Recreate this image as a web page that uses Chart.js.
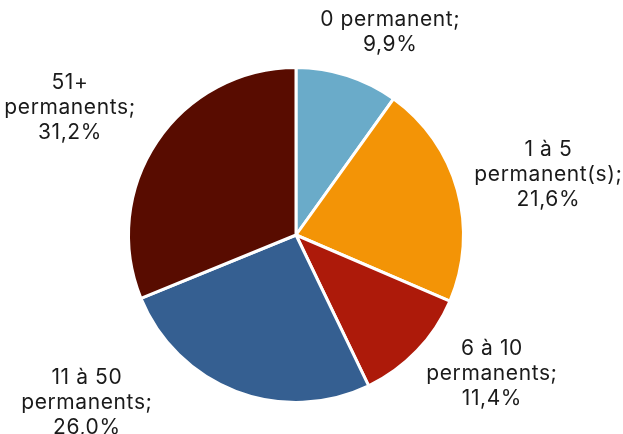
<!DOCTYPE html>
<html>
<head>
<meta charset="utf-8">
<script src="https://cdn.jsdelivr.net/npm/chart.js@4.4.1/dist/chart.umd.min.js"></script>
<style>
  html, body { margin: 0; padding: 0; background: #ffffff; }
  #wrap { width: 623px; height: 434px; position: relative; }
</style>
</head>
<body>
<div id="wrap"><canvas id="pie"></canvas></div>
<script>
// === DATA ===
const categories = [
  ["0 permanent;"],
  ["1 à 5", "permanent(s);"],
  ["6 à 10", "permanents;"],
  ["11 à 50", "permanents;"],
  ["51+", "permanents;"]
];
const shares = [9.9, 21.6, 11.4, 26.0, 31.2];
const shareLabels = ["9,9%", "21,6%", "11,4%", "26,0%", "31,2%"];
const sliceColors = ["#6aabc9", "#f39406", "#ad1a0a", "#355f91", "#580c00"];

// label offsets from each slice's outer mid point (px)
const labelShift = [[43, -43], [91, -15], [75, 23], [-149, 11], [-87, -34]];

// === LABEL PLUGIN ===
const outsideLabels = {
  id: "outsideLabels",
  afterDatasetsDraw(chart) {
    const ctx = chart.ctx;
    const meta = chart.getDatasetMeta(0);
    ctx.save();
    ctx.font = "21px Inter";
    ctx.letterSpacing = "0.6px";
    ctx.fillStyle = "#1a1a1a";
    ctx.textAlign = "center";
    ctx.textBaseline = "middle";
    meta.data.forEach((arc, i) => {
      const mid = (arc.startAngle + arc.endAngle) / 2;
      const x = arc.x + Math.cos(mid) * arc.outerRadius + labelShift[i][0];
      const y = arc.y + Math.sin(mid) * arc.outerRadius + labelShift[i][1];
      const lines = categories[i].concat([shareLabels[i]]);
      const lh = 25;
      const top = y - (lines.length - 1) * lh / 2;
      lines.forEach((t, k) => ctx.fillText(t, x, top + k * lh));
    });
    ctx.restore();
  }
};

// === CHART ===
new Chart(document.getElementById("pie"), {
  type: "pie",
  data: {
    labels: categories.map(c => c.join(" ")),
    datasets: [{
      data: shares,
      backgroundColor: sliceColors,
      borderColor: "#ffffff",
      borderWidth: 3
    }]
  },
  options: {
    responsive: true,
    maintainAspectRatio: false,
    animation: false,
    layout: { padding: { top: 66, bottom: 30, left: 127, right: 158 } },
    plugins: {
      legend: { display: false },
      tooltip: { enabled: false }
    }
  },
  plugins: [outsideLabels]
});
</script>
</body>
</html>
